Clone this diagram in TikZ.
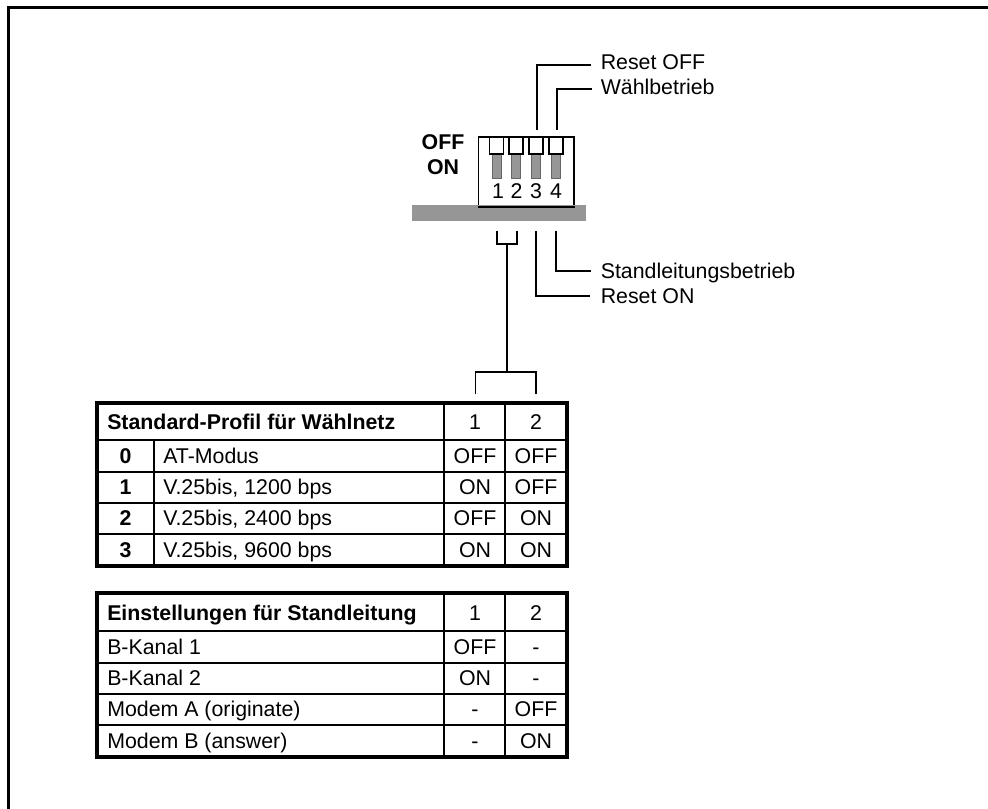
\documentclass[tikz,border=0pt]{standalone}
\usepackage{fontspec}
\setmainfont{Liberation Sans}
\definecolor{bargray}{HTML}{969696}
\begin{document}
\begin{tikzpicture}[x=0.75pt,y=-0.75pt,
  lbl/.style={inner sep=0pt,font=\fontsize{16pt}{18pt}\selectfont},
  lleft/.style={lbl,anchor=base west},
  lmid/.style={lbl,anchor=base},
  lb/.style={lbl,anchor=base,font=\fontsize{16pt}{18pt}\selectfont\bfseries},
  lbw/.style={lbl,anchor=base west,font=\fontsize{16pt}{18pt}\selectfont\bfseries},
  conn/.style={line width=1.05pt},
  tabouter/.style={line width=2.6pt},
  tabthin/.style={line width=1.3pt},
  tabmid/.style={line width=1.9pt},
  capbox/.style={draw,fill=white,line width=1.3pt,inner sep=0pt,minimum width=10.4pt,minimum height=13pt},
  rod/.style={draw=black!60,fill=bargray,line width=0.6pt}]
\useasboundingbox (0,0) rectangle (988,809);
% frame
\draw[line width=1.7pt] (8.5,809) -- (8.5,7.5) -- (988,7.5);
% switch housing
\node[draw,line width=1.3pt,inner sep=0pt,minimum width=71.5pt,minimum height=52pt,anchor=north west] (box) at (477.5,136) {};
\fill[bargray] (412,205) rectangle (586,221) node[pos=0.5,inner sep=0pt] (bar) {};
\draw[line width=1.3pt] (box.south west) -- (box.south east);
\foreach \n/\x/\xn in {1/496.5/498,2/516/516.5,3/536/536,4/556/556}{
  \draw[rod] (\x-4.6,153) rectangle (\x+4.6,178);
  \node[capbox,anchor=north] (sw\n) at (\x,136) {};
  \node[lmid] (num\n) at (\xn,198.5) {\n};
}
\node[lb] (off) at (443,149.5) {OFF};
\node[lb] (on) at (443,174.5) {ON};
% labels
\node[lleft] (rstoff) at (600.5,69.5) {Reset OFF};
\node[lleft] (waehl) at (600.5,94.5) {Wählbetrieb};
\node[lleft] (stand) at (600.5,278) {Standleitungsbetrieb};
\node[lleft] (rston) at (600.5,303.5) {Reset ON};
% connectors
\coordinate (a3) at (537,130);
\coordinate (a4) at (557,130);
\draw[conn] (a3) |- (591,65) coordinate (e3);
\draw[conn] (a4) |- (592,89) coordinate (e4);
\coordinate (b1) at (497,231);
\coordinate (b2) at (517,231);
\coordinate (b3) at (536,231);
\coordinate (b4) at (556,231);
\draw[conn] (b3) |- (590,296);
\draw[conn] (b4) |- (591,271);
\draw[conn] (b1) -- (497,244) -- (517,244) -- (b2);
\coordinate (j1) at (507,244);
\coordinate (j2) at (507,372);
\draw[conn] (j1) -- (j2);
\draw[conn] (475.5,394) -- (475.5,372) -- (536,372) -- (536,394);
% table 1
\draw[tabouter] (97,403) rectangle (567,566);
\draw[tabmid] (97,440) -- (567,440);
\draw[tabthin] (97,472) -- (567,472);
\draw[tabthin] (97,503) -- (567,503);
\draw[tabthin] (97,534) -- (567,534);
\draw[tabmid] (444,403) -- (444,566);
\draw[tabthin] (505,403) -- (505,566);
\draw[tabmid] (154,440) -- (154,566);
\node[lbw] (t1h) at (107,429.5) {Standard-Profil für Wählnetz};
\node[lmid] (t1a) at (475,429.5) {1};
\node[lmid] (t1b) at (536,429.5) {2};
\foreach \i/\y/\k/\t/\u/\v in {0/463.5/0/AT-Modus/OFF/OFF,1/494.5/1/{V.25bis, 1200 bps}/ON/OFF,2/525.5/2/{V.25bis, 2400 bps}/OFF/ON,3/557/3/{V.25bis, 9600 bps}/ON/ON}{
  \node[lb] (t1k\i) at (125.5,\y) {\k};
  \node[lleft] (t1t\i) at (163,\y) {\t};
  \node[lmid] (t1u\i) at (475,\y) {\u};
  \node[lmid] (t1v\i) at (536,\y) {\v};
}
% table 2
\draw[tabouter] (97,593) rectangle (567,757);
\draw[tabmid] (97,631) -- (567,631);
\draw[tabthin] (97,663) -- (567,663);
\draw[tabthin] (97,694) -- (567,694);
\draw[tabthin] (97,725) -- (567,725);
\draw[tabmid] (444,593) -- (444,757);
\draw[tabthin] (505,593) -- (505,757);
\node[lbw] (t2h) at (107,620) {Einstellungen für Standleitung};
\node[lmid] (t2a) at (475,620) {1};
\node[lmid] (t2b) at (536,620) {2};
\foreach \i/\y/\t/\u/\v in {0/654.5/B-Kanal 1/OFF/-,1/685.5/B-Kanal 2/ON/-,2/716.5/Modem A (originate)/-/OFF,3/748/Modem B (answer)/-/ON}{
  \node[lleft] (t2t\i) at (107,\y) {\t};
  \node[lmid] (t2u\i) at (475,\y) {\u};
  \node[lmid] (t2v\i) at (536,\y) {\v};
}
\end{tikzpicture}
\end{document}
